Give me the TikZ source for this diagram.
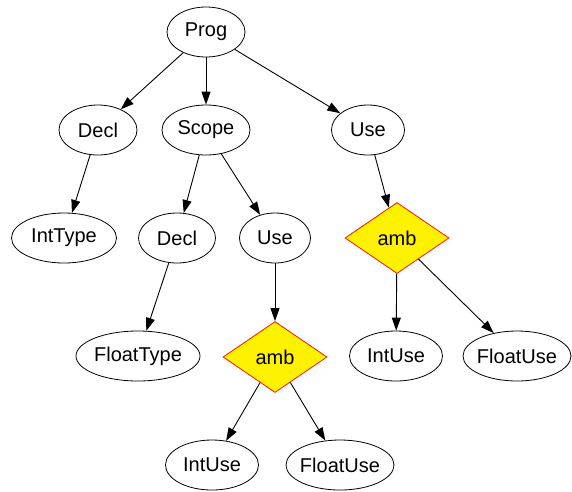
\documentclass[tikz,border=0pt]{standalone}
\usepackage{fontspec}
\setmainfont{Liberation Sans}
\usepackage{tikz}
\usetikzlibrary{shapes.geometric,arrows.meta}

\tikzset{
  tnode/.style={draw,ellipse,line width=0.8pt,minimum height=50pt,inner xsep=-4pt,inner ysep=0pt,
    font=\fontsize{20}{24}\selectfont},
  ambnode/.style={draw=red!85!orange,fill=yellow,diamond,line width=0.8pt,minimum width=104pt,
    minimum height=71pt,inner sep=0pt,font=\fontsize{20}{24}\selectfont},
  edge/.style={-{Triangle[length=13pt,width=9pt]},line width=0.9pt}
}

\begin{document}
\begin{tikzpicture}[x=1pt,y=-1pt]
      \useasboundingbox (0,0) rectangle (572,491);
      \node[tnode,minimum width=78pt] (prog) at (206,32) {Prog};
      \node[tnode,minimum width=78pt] (decl) at (98,130) {Decl};
      \node[tnode,minimum width=88pt] (scope) at (206,130) {Scope};
      \node[tnode,minimum width=73pt] (use) at (368,130) {Use};
      \node[tnode,minimum width=105pt] (inttype) at (64,238) {IntType};
      \node[tnode,minimum width=77pt] (decltwo) at (177,238) {Decl};
      \node[tnode,minimum width=71pt] (usetwo) at (275,238) {Use};
      \node[ambnode] (amb) at (397,238) {amb};
      \node[tnode,minimum width=124pt] (floattype) at (138,356) {FloatType};
      \node[ambnode] (ambtwo) at (275,357) {amb};
      \node[tnode,minimum width=93pt] (intuse) at (396,356) {IntUse};
      \node[tnode,minimum width=108pt] (floatuse) at (517,356) {FloatUse};
      \node[tnode,minimum width=93pt] (intusetwo) at (212,465) {IntUse};
      \node[tnode,minimum width=108pt] (floatusetwo) at (340,465) {FloatUse};
      \draw[edge] (prog) -- (decl);
      \draw[edge] (prog) -- (scope);
      \draw[edge] (prog) -- (use);
      \draw[edge] (decl) -- (inttype);
      \draw[edge] (scope) -- (decltwo);
      \draw[edge] (scope) -- (usetwo);
      \draw[edge] (use) -- (amb);
      \draw[edge] (decltwo) -- (floattype);
      \draw[edge] (usetwo) -- (ambtwo);
      \draw[edge] (amb) -- (intuse);
      \draw[edge] (amb) -- (floatuse);
      \draw[edge] (ambtwo) -- (intusetwo);
      \draw[edge] (ambtwo) -- (floatusetwo);
    \end{tikzpicture}
\end{document}
